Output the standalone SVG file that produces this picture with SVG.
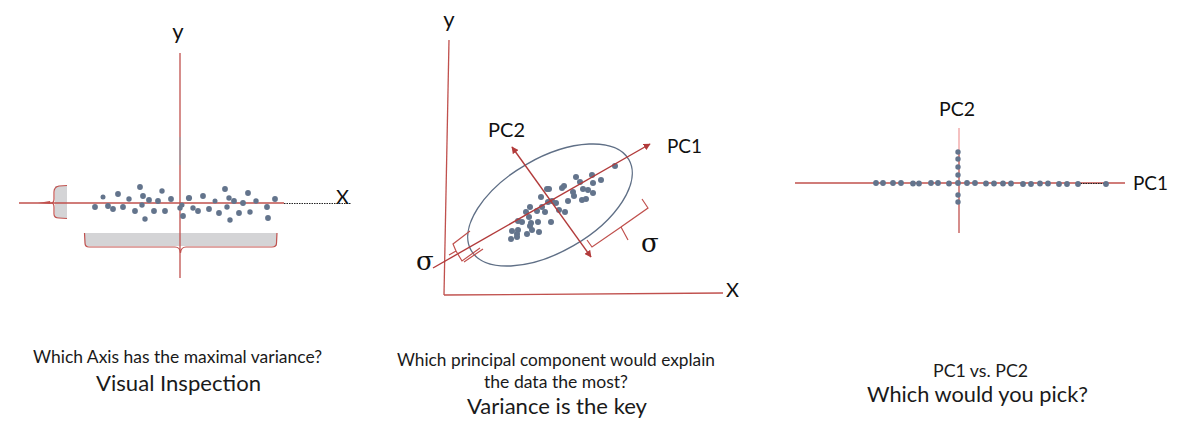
<svg xmlns="http://www.w3.org/2000/svg" width="1190" height="442" viewBox="0 0 1190 442">
<style>
.ax{stroke:#c0504d;stroke-width:1.3;fill:none}
.arr{stroke:#b23b3b;stroke-width:1.4;fill:none}
.br{stroke:#c0504d;stroke-width:1.2;fill:none}
.dot{fill:#63748c}
.lbl{font-family:Lato,"Open Sans","Liberation Sans",sans-serif;fill:#111}
.sig{font-family:"DejaVu Serif","Liberation Serif",serif;fill:#111;font-size:26px}
.cap{font-family:Lato,"Open Sans","Liberation Sans",sans-serif;fill:#1a1a1a;text-anchor:middle}
</style>
<defs>
<marker id="ah" viewBox="0 0 10 10" refX="9" refY="5" markerWidth="7" markerHeight="7" orient="auto-start-reverse" markerUnits="userSpaceOnUse">
<path d="M0,0 L10,5 L0,10 z" fill="#b23b3b"/>
</marker>
</defs>
<rect width="1190" height="442" fill="#fff"/>

<!-- Panel 1 -->
<g id="panel1">
<rect x="55" y="186" width="12" height="32" fill="#d4d4d6"/>
<rect x="85" y="233" width="192" height="13" fill="#d4d4d6"/>
<line class="ax" x1="180" y1="53" x2="180" y2="278"/>
<line x1="180" y1="137" x2="180" y2="165" stroke="#a0a0a8" stroke-width="1.3"/>
<line class="ax" x1="19" y1="203" x2="284" y2="203"/>
<line x1="284" y1="203.5" x2="351" y2="203.5" stroke="#222" stroke-width="1" stroke-dasharray="1.5 1"/>
<path d="M38,203 L50,201 L51,204 z" fill="#c0504d"/>
<path class="br" d="M67,185.5 L59,186 Q54,187 54,192 L54,199 Q54,203 51,203 Q54,203 54,207 L54,214 Q54,218 59,218 L67,218.5"/>
<path class="br" d="M84.5,233 L85,243 Q85,247 89,247 L175,247 Q180,247 180.5,253 Q181,247 186,247 L272,247 Q276.5,247 276.5,243 L277,233"/>
<g class="dot">
<circle cx="95" cy="207" r="2.9"/><circle cx="103" cy="197" r="2.5"/><circle cx="108" cy="206" r="2.9"/><circle cx="113" cy="209" r="2.9"/>
<circle cx="118" cy="194" r="2.9"/><circle cx="123" cy="207" r="2.9"/><circle cx="129" cy="199" r="2.7"/><circle cx="135" cy="211" r="2.9"/>
<circle cx="140" cy="187" r="2.9"/><circle cx="143" cy="196" r="2.9"/><circle cx="142" cy="205" r="2.7"/><circle cx="145" cy="219" r="2.7"/>
<circle cx="149" cy="200" r="2.9"/><circle cx="154" cy="211" r="2.9"/><circle cx="158" cy="201" r="2.9"/><circle cx="162" cy="191" r="2.7"/>
<circle cx="165" cy="211" r="2.9"/><circle cx="171" cy="199" r="2.9"/><circle cx="180" cy="208" r="2.7"/><circle cx="183" cy="216" r="2.9"/>
<circle cx="182" cy="205" r="2.5"/><circle cx="189" cy="198" r="3.1"/><circle cx="193" cy="208" r="2.7"/><circle cx="198" cy="211" r="2.9"/>
<circle cx="203" cy="196" r="2.9"/><circle cx="209" cy="209" r="2.9"/><circle cx="215" cy="201" r="2.5"/><circle cx="219" cy="213" r="2.9"/>
<circle cx="225" cy="189" r="2.9"/><circle cx="229" cy="198" r="2.7"/><circle cx="227" cy="207" r="2.7"/><circle cx="230" cy="220" r="2.7"/>
<circle cx="234" cy="201" r="2.9"/><circle cx="239" cy="213" r="2.9"/><circle cx="243" cy="203" r="2.9"/><circle cx="248" cy="193" r="2.9"/>
<circle cx="250" cy="212" r="2.7"/><circle cx="256" cy="201" r="2.7"/><circle cx="267" cy="207" r="2.9"/><circle cx="268" cy="218" r="2.9"/>
<circle cx="275" cy="199" r="2.9"/>
</g>
<text class="lbl" x="178" y="39" font-size="22" text-anchor="middle">y</text>
<text class="lbl" x="336" y="204" font-size="20">X</text>
</g>

<!-- Panel 2 -->
<g id="panel2">
<line class="ax" x1="449" y1="40" x2="444" y2="295"/>
<line class="ax" x1="444" y1="295" x2="723" y2="293"/>
<ellipse cx="550" cy="205" rx="91" ry="47" transform="rotate(-30 550 205)" fill="none" stroke="#5f6f86" stroke-width="1.4"/>
<g class="dot">
<circle cx="615" cy="166" r="3"/><circle cx="576" cy="177" r="3"/><circle cx="592" cy="175" r="3"/><circle cx="580" cy="182" r="3"/>
<circle cx="593" cy="183" r="3"/><circle cx="601" cy="180" r="3"/><circle cx="583" cy="189" r="3"/><circle cx="588" cy="190" r="3"/>
<circle cx="593" cy="193" r="3"/><circle cx="573" cy="192" r="3"/><circle cx="574" cy="196" r="3"/><circle cx="562" cy="188" r="3"/>
<circle cx="564" cy="186" r="3"/><circle cx="547" cy="189" r="3"/><circle cx="549" cy="189" r="3"/><circle cx="541" cy="197" r="3"/>
<circle cx="568" cy="201" r="3"/><circle cx="582" cy="200" r="3"/><circle cx="586" cy="199" r="3"/><circle cx="548" cy="202" r="3"/>
<circle cx="552" cy="201" r="3"/><circle cx="556" cy="203" r="3"/><circle cx="559" cy="210" r="3"/><circle cx="565" cy="212" r="3"/>
<circle cx="542" cy="207" r="3"/><circle cx="545" cy="212" r="3"/><circle cx="537" cy="211" r="3"/><circle cx="530" cy="207" r="3"/>
<circle cx="526" cy="212" r="3"/><circle cx="529" cy="217" r="3"/><circle cx="538" cy="222" r="3"/><circle cx="551" cy="222" r="3"/>
<circle cx="518" cy="221" r="3"/><circle cx="522" cy="222" r="3"/><circle cx="531" cy="223" r="3"/><circle cx="530" cy="226" r="3"/>
<circle cx="532" cy="230" r="3"/><circle cx="518" cy="230" r="3"/><circle cx="539" cy="232" r="3"/><circle cx="527" cy="234" r="3"/>
<circle cx="517" cy="234" r="3"/><circle cx="512" cy="231" r="3"/><circle cx="517" cy="237" r="3"/><circle cx="511" cy="239" r="3"/>
</g>
<line class="arr" x1="433" y1="268" x2="650" y2="144" marker-end="url(#ah)"/>
<line class="arr" x1="512" y1="147" x2="591" y2="257" marker-start="url(#ah)" marker-end="url(#ah)"/>
<path class="br" d="M470,231 L453,244 L456,251 L449,255 M456,251 L462,261 L480,248"/>
<line class="br" x1="464" y1="262" x2="483" y2="249"/>
<path class="br" d="M642,199 L648,208 L621,227 L628,240 M621,227 L592,247 L587,240"/>
<text class="lbl" x="449" y="27" font-size="22" text-anchor="middle">y</text>
<text class="lbl" x="726" y="297" font-size="20">X</text>
<text class="lbl" x="488" y="137" font-size="20" textLength="37" lengthAdjust="spacingAndGlyphs">PC2</text>
<text class="lbl" x="667" y="153" font-size="20" textLength="35" lengthAdjust="spacingAndGlyphs">PC1</text>
<text class="sig" x="416" y="270">σ</text>
<text class="sig" x="641" y="252">σ</text>
</g>

<!-- Panel 3 -->
<g id="panel3">
<line class="ax" x1="959" y1="150" x2="959" y2="233"/>
<line x1="959" y1="128" x2="959" y2="150" stroke="#f0a0a0" stroke-width="1.3"/>
<line class="ax" x1="795" y1="183" x2="1125" y2="183"/>
<line x1="1078" y1="183.5" x2="1105" y2="183.5" stroke="#222" stroke-width="1" stroke-dasharray="1.5 1"/>
<g class="dot">
<circle cx="876" cy="183" r="2.9"/><circle cx="883" cy="183" r="2.9"/><circle cx="893" cy="183" r="2.9"/><circle cx="901" cy="183" r="2.9"/>
<circle cx="913" cy="183.5" r="2.9"/><circle cx="919" cy="183.5" r="2.9"/><circle cx="931" cy="183" r="2.9"/><circle cx="938" cy="183" r="2.9"/>
<circle cx="949" cy="183.5" r="2.9"/><circle cx="958" cy="183" r="2.9"/><circle cx="967" cy="183" r="2.9"/><circle cx="975" cy="183" r="2.9"/>
<circle cx="986" cy="183.5" r="2.9"/><circle cx="994" cy="183.5" r="2.9"/><circle cx="1003" cy="183.5" r="2.9"/><circle cx="1011" cy="183.5" r="2.9"/>
<circle cx="1023" cy="184" r="2.9"/><circle cx="1031" cy="184" r="2.9"/><circle cx="1040" cy="183.5" r="2.9"/><circle cx="1048" cy="183.5" r="2.9"/>
<circle cx="1059" cy="184" r="2.9"/><circle cx="1067" cy="184" r="2.9"/><circle cx="1078" cy="184" r="2.9"/><circle cx="1106" cy="184" r="2.9"/>
<circle cx="958" cy="152" r="2.7"/><circle cx="958" cy="159" r="2.7"/><circle cx="958" cy="167" r="2.7"/><circle cx="958" cy="175" r="2.7"/>
<circle cx="958" cy="195" r="2.7"/><circle cx="958" cy="202" r="2.7"/>
</g>
<text class="lbl" x="939" y="116" font-size="20" textLength="36" lengthAdjust="spacingAndGlyphs">PC2</text>
<text class="lbl" x="1133" y="190" font-size="20" textLength="35" lengthAdjust="spacingAndGlyphs">PC1</text>
</g>

<!-- Captions -->
<g id="captions">
<text class="cap" x="177.5" y="363" font-size="17" textLength="289" lengthAdjust="spacingAndGlyphs">Which Axis has the maximal variance?</text>
<text class="cap" x="178.5" y="391" font-size="22" textLength="165" lengthAdjust="spacingAndGlyphs">Visual Inspection</text>
<text class="cap" x="556" y="366" font-size="17" textLength="318" lengthAdjust="spacingAndGlyphs">Which principal component would explain</text>
<text class="cap" x="556" y="388" font-size="17" textLength="144" lengthAdjust="spacingAndGlyphs">the data the most?</text>
<text class="cap" x="557" y="414" font-size="22" textLength="180" lengthAdjust="spacingAndGlyphs">Variance is the key</text>
<text class="cap" x="980.5" y="377" font-size="17" textLength="95" lengthAdjust="spacingAndGlyphs">PC1 vs. PC2</text>
<text class="cap" x="977.5" y="402" font-size="22" textLength="221" lengthAdjust="spacingAndGlyphs">Which would you pick?</text>
</g>
</svg>
